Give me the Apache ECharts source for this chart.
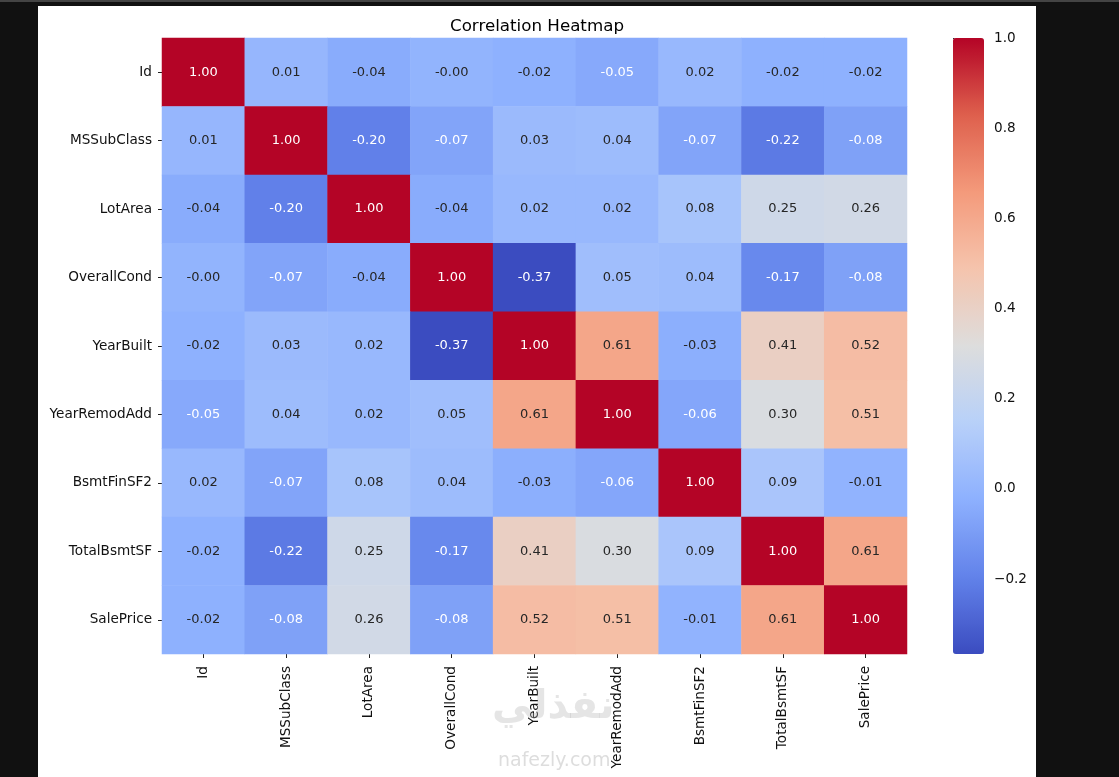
<!DOCTYPE html>
<html>
<head>
<meta charset="utf-8">
<script src="https://cdn.jsdelivr.net/npm/echarts@6/dist/echarts.min.js"></script>
<style>
    html, body { margin: 0; padding: 0; background: #111; }
    #wrap { position: relative; width: 1119px; height: 777px; background: #111; overflow: hidden; }
    #topline { position: absolute; left: 0; top: 0; width: 1119px; height: 2px; background: #444; }
    #paper { position: absolute; left: 38px; top: 6px; width: 998px; height: 771px; background: #fff; }
    #chart { position: absolute; left: 0; top: 0; width: 1119px; height: 777px; }
</style>
</head>
<body>
<div id="wrap">
    <div id="topline"></div>
    <div id="paper"></div>
    <div id="chart"></div>
</div>
<script>
// variables (rows / columns of the correlation matrix)
const columns = ['Id', 'MSSubClass', 'LotArea', 'OverallCond', 'YearBuilt', 'YearRemodAdd', 'BsmtFinSF2', 'TotalBsmtSF', 'SalePrice'];

// correlation values, one array per row
const rowId           = [1.00, 0.01, -0.04, -0.004, -0.02, -0.05, 0.02, -0.02, -0.02];
const rowMSSubClass   = [0.01, 1.00, -0.20, -0.07, 0.03, 0.04, -0.07, -0.22, -0.08];
const rowLotArea      = [-0.04, -0.20, 1.00, -0.04, 0.02, 0.02, 0.08, 0.25, 0.26];
const rowOverallCond  = [-0.004, -0.07, -0.04, 1.00, -0.366, 0.05, 0.04, -0.17, -0.08];
const rowYearBuilt    = [-0.02, 0.03, 0.02, -0.366, 1.00, 0.61, -0.03, 0.41, 0.52];
const rowYearRemodAdd = [-0.05, 0.04, 0.02, 0.05, 0.61, 1.00, -0.06, 0.30, 0.51];
const rowBsmtFinSF2   = [0.02, -0.07, 0.08, 0.04, -0.03, -0.06, 1.00, 0.09, -0.01];
const rowTotalBsmtSF  = [-0.02, -0.22, 0.25, -0.17, 0.41, 0.30, 0.09, 1.00, 0.61];
const rowSalePrice    = [-0.02, -0.08, 0.26, -0.08, 0.52, 0.51, -0.01, 0.61, 1.00];

// colorbar tick labels
const colorbarTicks = [-0.2, 0.0, 0.2, 0.4, 0.6, 0.8, 1.0];

const matrix = [rowId, rowMSSubClass, rowLotArea, rowOverallCond, rowYearBuilt,
    rowYearRemodAdd, rowBsmtFinSF2, rowTotalBsmtSF, rowSalePrice];

// coolwarm
const coolwarm = ['#3b4cc0', '#6282ea', '#8db0fe', '#b8d0f9', '#dddddd', '#f5c4ad', '#f49a7b', '#de604d', '#b40426'];

let vMin = Math.min(...matrix.map(r => Math.min(...r)));
let vMax = Math.max(...matrix.map(r => Math.max(...r)));

let cells = [];
matrix.forEach((row, y) => {
    row.forEach((v, x) => {
        // light text on dark cells
        let dark = v < -0.045 || v > 0.9;
        cells.push({
            value: [x, y, v],
            label: { color: dark ? '#ffffff' : '#262626' }
        });
    });
});

const font = 'DejaVu Sans';
const tickFont = 13.6;
const myChart = echarts.init(document.getElementById('chart'));

let option = {
    backgroundColor: 'transparent',
    animation: false,
    textStyle: { fontFamily: font },
    title: {
        text: 'Correlation Heatmap',
        left: 532,
        top: 13,
        textAlign: 'center',
        textStyle: { fontFamily: font, fontSize: 16.7, fontWeight: 'normal', color: '#000' }
    },
    grid: [
        { left: 162, top: 38, width: 745, height: 616 },
        { left: 953, top: 38, width: 31, height: 616 }
    ],
    xAxis: [
        {
            type: 'category',
            gridIndex: 0,
            data: columns,
            position: 'bottom',
            axisLine: { show: false },
            axisTick: { show: true, length: 4, alignWithLabel: true, lineStyle: { color: '#222', width: 1 } },
            axisLabel: { rotate: 90, margin: 12, fontSize: tickFont, fontFamily: font, color: '#111', interval: 0 },
            splitLine: { show: false },
            splitArea: { show: false }
        },
        {
            type: 'value',
            gridIndex: 1,
            show: false
        }
    ],
    yAxis: [
        {
            type: 'category',
            gridIndex: 0,
            data: columns,
            inverse: true,
            axisLine: { show: false },
            axisTick: { show: true, length: 4, alignWithLabel: true, lineStyle: { color: '#222', width: 1 } },
            axisLabel: { margin: 10, fontSize: tickFont, fontFamily: font, color: '#111', interval: 0 },
            splitLine: { show: false },
            splitArea: { show: false }
        },
        {
            type: 'value',
            gridIndex: 1,
            position: 'right',
            min: vMin,
            max: vMax,
            axisLine: { show: false },
            splitLine: { show: false },
            axisTick: {
                show: true, length: 4, customValues: colorbarTicks,
                lineStyle: { color: '#222', width: 1 }
            },
            axisLabel: {
                margin: 10, fontSize: tickFont, fontFamily: font, color: '#111',
                customValues: colorbarTicks,
                formatter: (v) => {
                    let s = Math.abs(v).toFixed(1);
                    return v < -1e-9 ? '\u2212' + s : s;
                }
            }
        }
    ],
    visualMap: {
        type: 'continuous',
        min: vMin,
        max: vMax,
        seriesIndex: 0,
        calculable: false,
        hoverLink: false,
        orient: 'vertical',
        left: 953,
        top: 38,
        padding: 0,
        itemWidth: 31,
        itemHeight: 616,
        text: null,
        showLabel: false,
        inRange: { color: coolwarm }
    },
    graphic: [
        {
            type: 'text', left: 492, top: 688, z: 100,
            style: { text: 'نفذلي', fontSize: 40, fontWeight: 'bold', fontFamily: font, fill: 'rgba(180,180,180,0.35)' }
        },
        {
            type: 'text', left: 498, top: 752, z: 100,
            style: { text: 'nafezly.com', fontSize: 19, fontFamily: font, fill: 'rgba(180,180,180,0.45)' }
        }
    ],
    series: [
        {
            type: 'heatmap',
            xAxisIndex: 0,
            yAxisIndex: 0,
            data: cells,
            itemStyle: { borderWidth: 0 },
            label: {
                show: true,
                fontSize: 13,
                fontFamily: font,
                formatter: (p) => p.value[2].toFixed(2)
            },
            emphasis: { disabled: true }
        },
        {
            type: 'line',
            xAxisIndex: 1,
            yAxisIndex: 1,
            data: [],
            silent: true
        }
    ]
};
myChart.setOption(option);
</script>
</body>
</html>
